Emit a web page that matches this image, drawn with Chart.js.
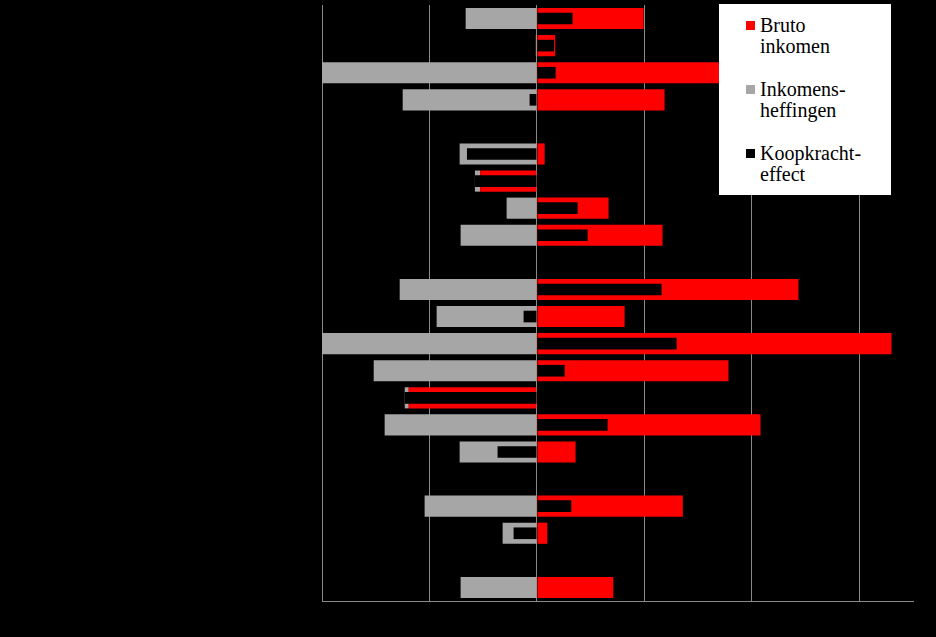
<!DOCTYPE html>
<html>
<head>
<meta charset="utf-8">
<title>Koopkracht</title>
<script src="https://cdn.jsdelivr.net/npm/chart.js@4"></script>
<style>
  html, body { margin: 0; padding: 0; background: #000; }
  #wrap { position: relative; width: 936px; height: 637px; }
  #legend {
    position: absolute; left: 719px; top: 4px; width: 172px; height: 191px;
    background: #fff; font-family: "Liberation Serif", "DejaVu Serif", serif;
    font-size: 20px; line-height: 21px; color: #000;
  }
  .item { position: absolute; left: 0; width: 172px; }
  .box { position: absolute; left: 27px; top: 6px; width: 9px; height: 9px; }
  .txt { position: absolute; left: 41px; top: 0; white-space: nowrap; }
</style>
</head>
<body>
<div id="wrap">
  <canvas id="chart"></canvas>
  <div id="legend"></div>
</div>
<script>
// 22 rijen, labels zijn zwart op zwart in het origineel
const categories = ["", "", "", "", "", "", "", "", "", "", "", "", "", "", "", "", "", "", "", "", "", ""];

const brutoInkomen = [9.93, 1.7, 21.74, 11.88, null, 0.72, -5.27, 6.67, 11.69, null, 24.34, 8.16, 33.0, 17.83, -11.93, 20.81, 3.6, null, 13.58, 0.97, null, 7.11];
const inkomensheffingen = [-6.63, -0.1, -20, -12.49, null, -7.19, -0.5, -2.82, -7.1, null, -12.77, -9.33, -20, -15.19, -0.37, -14.17, -7.19, null, -10.45, -3.19, null, -7.1];
const koopkrachtEffect = [3.32, 1.6, 1.74, -0.68, null, -6.51, -5.77, 3.79, 4.72, null, 11.6, -1.24, 13.0, 2.58, -12.3, 6.58, -3.66, null, 3.2, -2.17, null, 0];

const legendLabels = [["Bruto", "inkomen"], ["Inkomens-", "heffingen"], ["Koopkracht-", "effect"]];

const xMin = -20;
const xMax = 35;
const xStep = 10;

const chart = new Chart(document.getElementById("chart"), {
  type: "bar",
  data: {
    labels: categories,
    datasets: [
      {
        label: "Bruto inkomen",
        data: brutoInkomen,
        backgroundColor: "#ff0000",
        stack: "a",
        order: 2,
        barPercentage: 0.78,
        categoryPercentage: 1,
      },
      {
        label: "Inkomensheffingen",
        data: inkomensheffingen,
        backgroundColor: "#a6a6a6",
        stack: "a",
        order: 2,
        barPercentage: 0.78,
        categoryPercentage: 1,
      },
      {
        label: "Koopkracht-effect",
        data: koopkrachtEffect,
        backgroundColor: "#000000",
        stack: "b",
        order: 1,
        barPercentage: 0.43,
        categoryPercentage: 1,
      },
    ],
  },
  options: {
    indexAxis: "y",
    responsive: true,
    maintainAspectRatio: false,
    animation: false,
    grouped: false,
    layout: { padding: { left: 322, right: 23, top: 5, bottom: 36 } },
    plugins: {
      legend: { display: false },
      tooltip: { enabled: false },
    },
    scales: {
      x: {
        min: xMin,
        max: xMax,
        ticks: { display: false, stepSize: xStep },
        grid: {
          drawTicks: false,
          lineWidth: 1,
          color: (ctx) => (ctx.tick && ctx.tick.value > 30 ? "rgba(0,0,0,0)" : "#8a8a8a"),
        },
        border: { display: true, color: "#8a8a8a", width: 1 },
      },
      y: {
        ticks: { display: false },
        grid: { display: false, drawTicks: false },
        border: { display: false },
      },
    },
  },
});

// Legenda als tekst boven de grafiek
const legend = document.getElementById("legend");
chart.data.datasets.forEach((ds, i) => {
  const item = document.createElement("div");
  item.className = "item";
  item.style.top = (11 + i * 64) + "px";
  const box = document.createElement("div");
  box.className = "box";
  box.style.background = ds.backgroundColor;
  const txt = document.createElement("div");
  txt.className = "txt";
  txt.innerHTML = legendLabels[i].join("<br>");
  item.appendChild(box);
  item.appendChild(txt);
  legend.appendChild(item);
});
</script>
</body>
</html>
